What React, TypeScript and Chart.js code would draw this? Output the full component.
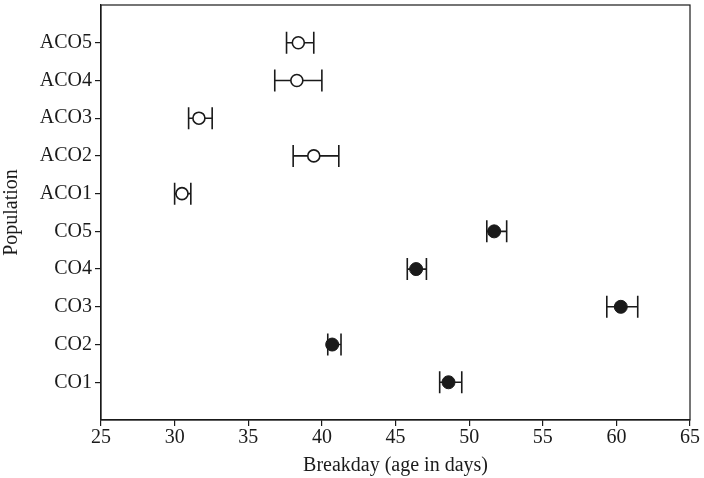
import React, { useEffect, useRef } from "react";
import { Chart, registerables } from "chart.js";

Chart.register(...registerables);

const categories = ["CO1", "CO2", "CO3", "CO4", "CO5", "ACO1", "ACO2", "ACO3", "ACO4", "ACO5"];
const means = [48.6, 40.7, 60.3, 46.4, 51.7, 30.5, 39.45, 31.65, 38.3, 38.4];
const lows = [48.0, 40.4, 59.35, 45.8, 51.2, 30.0, 38.05, 30.95, 36.8, 37.6];
const highs = [49.5, 41.3, 61.45, 47.1, 52.55, 31.1, 41.15, 32.55, 40.0, 39.45];
const xTicks = [25, 30, 35, 40, 45, 50, 55, 60, 65];

const FONT = "'Liberation Serif', 'DejaVu Serif', serif";
const INK = "#1a1a1a";

const errorBars = {
  id: "errorBars",
  beforeDatasetsDraw(chart: any) {
    const { ctx, scales } = chart;
    const xs = scales.x;
    const ys = scales.y;
    ctx.save();
    ctx.strokeStyle = INK;
    ctx.lineWidth = 1.6;
    categories.forEach((_, i) => {
      const y = ys.getPixelForValue(i + 1);
      const x1 = xs.getPixelForValue(lows[i]);
      const x2 = xs.getPixelForValue(highs[i]);
      const cap = 11;
      ctx.beginPath();
      ctx.moveTo(x1, y);
      ctx.lineTo(x2, y);
      ctx.moveTo(x1, y - cap);
      ctx.lineTo(x1, y + cap);
      ctx.moveTo(x2, y - cap);
      ctx.lineTo(x2, y + cap);
      ctx.stroke();
    });
    ctx.restore();
  },
  afterDraw(chart: any) {
    const { ctx, chartArea } = chart;
    ctx.save();
    ctx.strokeStyle = INK;
    ctx.lineWidth = 1.2;
    ctx.strokeRect(chartArea.left, chartArea.top, chartArea.right - chartArea.left, chartArea.bottom - chartArea.top);
    ctx.restore();
  },
};

export default function App() {
  const ref = useRef<HTMLCanvasElement>(null);
  useEffect(() => {
    document.body.style.margin = "0";
    const co = categories.map((_, i) => ({ x: means[i], y: i + 1 })).slice(0, 5);
    const aco = categories.map((_, i) => ({ x: means[i], y: i + 1 })).slice(5);
    const chart = new Chart(ref.current as HTMLCanvasElement, {
      type: "scatter",
      data: {
        datasets: [
          {
            label: "CO",
            data: co,
            pointRadius: 6.5,
            pointBackgroundColor: INK,
            pointBorderColor: INK,
            pointBorderWidth: 1,
          },
          {
            label: "ACO",
            data: aco,
            pointRadius: 6,
            pointBackgroundColor: "#ffffff",
            pointBorderColor: INK,
            pointBorderWidth: 1.6,
          },
        ],
      },
      options: {
        animation: false,
        responsive: false,
        layout: { autoPadding: false, padding: { top: 5, right: 14, left: 0, bottom: 0 } },
        plugins: { legend: { display: false }, tooltip: { enabled: false } },
        scales: {
          x: {
            type: "linear",
            min: 25,
            max: 65,
            afterBuildTicks: (axis: any) => {
              axis.ticks = xTicks.map((v) => ({ value: v }));
            },
            afterFit: (scale: any) => {
              scale.height = 58;
              scale.paddingLeft = 0;
              scale.paddingRight = 0;
            },
            grid: { display: true, drawOnChartArea: false, drawTicks: true, tickLength: 6, color: INK, lineWidth: 1.2 },
            border: { display: true, color: INK, width: 1.2 },
            ticks: { color: INK, font: { family: FONT, size: 20 }, padding: 0, maxRotation: 0 },
            title: { display: true, text: "Breakday (age in days)", color: INK, font: { family: FONT, size: 20 }, padding: { top: 0, bottom: 0 } },
          },
          y: {
            type: "linear",
            min: 0,
            max: 11,
            afterBuildTicks: (axis: any) => {
              axis.ticks = categories.map((_, i) => ({ value: i + 1 }));
            },
            afterFit: (scale: any) => {
              scale.width = 101;
              scale.paddingTop = 0;
              scale.paddingBottom = 0;
            },
            grid: { display: true, drawOnChartArea: false, drawTicks: true, tickLength: 6, color: INK, lineWidth: 1.2 },
            border: { display: true, color: INK, width: 1.2 },
            ticks: {
              color: INK,
              font: { family: FONT, size: 20 },
              padding: 3,
              callback: (v: any) => categories[Number(v) - 1] ?? "",
            },
            title: { display: true, text: "Population", color: INK, font: { family: FONT, size: 20 }, padding: { top: 0, bottom: 2 } },
          },
        },
      },
      plugins: [errorBars],
    });
    return () => chart.destroy();
  }, []);
  return (
    <div style={{ width: 704, height: 478, background: "#fff" }}>
      <canvas ref={ref} width={704} height={478} style={{ display: "block" }} />
    </div>
  );
}
